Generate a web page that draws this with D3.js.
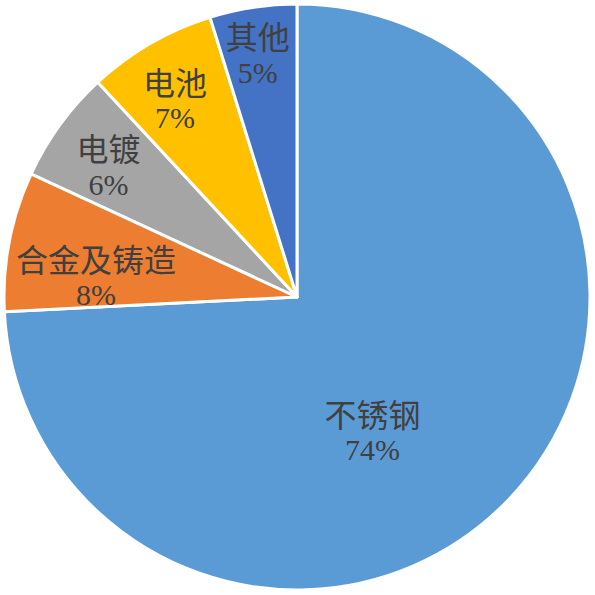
<!DOCTYPE html>
<html>
<head>
<meta charset="utf-8">
<script src="https://cdn.jsdelivr.net/npm/d3@7"></script>
<style>
  body { margin: 0; background: #fff; }
  svg { display: block; }
</style>
</head>
<body>
<svg id="chart" width="595" height="595"></svg>
<script>
// data
let categories = ["不锈钢", "合金及铸造", "电镀", "电池", "其他"];
let shares = [74.2, 7.7, 6.2, 7.1, 4.8];
let colors = ["#5B9BD5", "#ED7D31", "#A5A5A5", "#FFC000", "#4472C4"];

// label placement (fraction of radius, angle tweak in degrees)
let labelRadius = [0.525, 0.69, 0.785, 0.795, 0.843];
let labelTurn = [17, -5, -1, -1.5, -0.5];

let cx = 297, cy = 297, radius = 293;

let svg = d3.select("#chart");
let graph = svg.append("g")
  .attr("transform", "translate(" + cx + "," + cy + ")");

let rows = categories.map(function(c, i) {
  return { name: c, value: shares[i], color: colors[i], i: i };
});

let pie = d3.pie()
  .sort(null)
  .value(function(d) { return d.value; });

let arc = d3.arc().innerRadius(0).outerRadius(radius);

let arcs = pie(rows);

graph.selectAll(".slice")
  .data(arcs)
  .enter()
  .append("path")
  .attr("class", "slice")
  .attr("d", arc)
  .style("fill", function(d) { return d.data.color; })
  .style("stroke", "#fff")
  .style("stroke-width", 3)
  .style("stroke-linejoin", "round");

let total = d3.sum(shares);

let labels = graph.selectAll(".lbl")
  .data(arcs)
  .enter()
  .append("g")
  .attr("class", "lbl")
  .attr("transform", function(d) {
    let i = d.data.i;
    let a = (d.startAngle + d.endAngle) / 2 + labelTurn[i] * Math.PI / 180;
    let r = radius * labelRadius[i];
    return "translate(" + (r * Math.sin(a)) + "," + (-r * Math.cos(a)) + ")";
  });

labels.append("text")
  .attr("y", -18)
  .attr("text-anchor", "middle")
  .attr("dominant-baseline", "central")
  .style("font-family", "'Noto Sans CJK SC', sans-serif")
  .style("font-size", "32px")
  .style("fill", "#404040")
  .text(function(d) { return d.data.name; });

labels.append("text")
  .attr("y", 19)
  .attr("text-anchor", "middle")
  .attr("dominant-baseline", "central")
  .style("font-family", "'Liberation Serif', 'Times New Roman', serif")
  .style("font-size", "30px")
  .style("fill", "#404040")
  .text(function(d) { return Math.round(d.data.value / total * 100) + "%"; });
</script>
</body>
</html>
